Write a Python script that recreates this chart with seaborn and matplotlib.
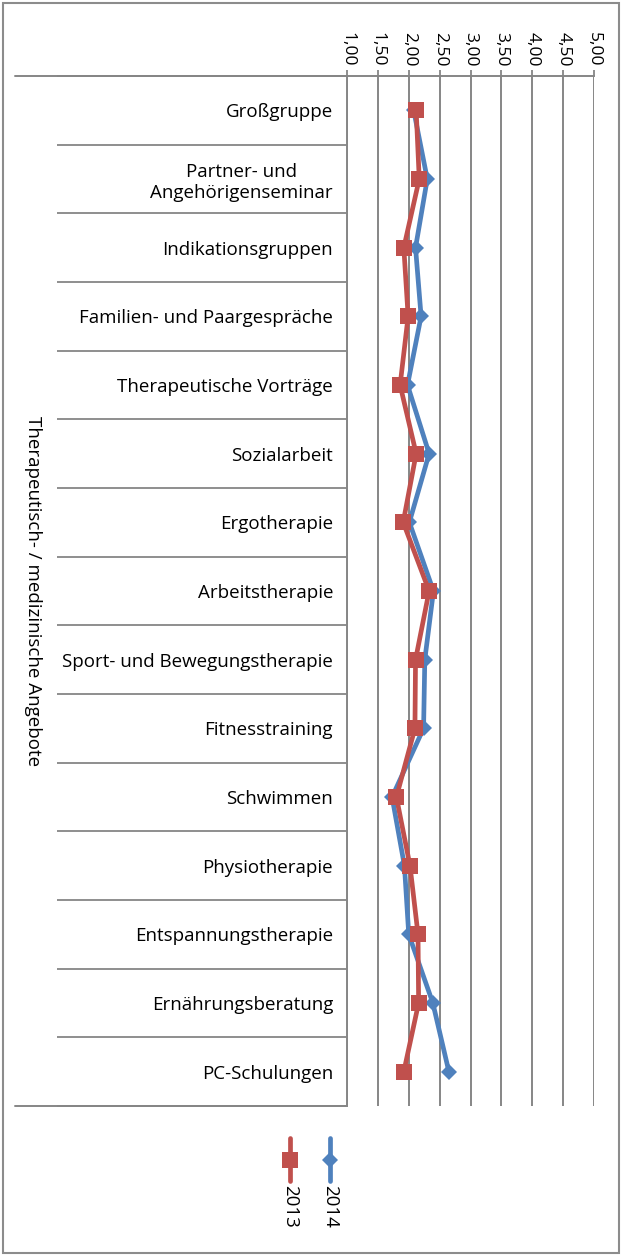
import numpy as np
import pandas as pd
import seaborn as sns
import matplotlib.pyplot as plt
from matplotlib.lines import Line2D
from matplotlib.patches import Rectangle
from matplotlib.transforms import blended_transform_factory

# Angebote (von oben nach unten)
kategorien = ['Großgruppe', 'Partner- und\nAngehörigenseminar', 'Indikationsgruppen',
              'Familien- und Paargespräche', 'Therapeutische Vorträge', 'Sozialarbeit',
              'Ergotherapie', 'Arbeitstherapie', 'Sport- und Bewegungstherapie',
              'Fitnesstraining', 'Schwimmen', 'Physiotherapie', 'Entspannungstherapie',
              'Ernährungsberatung', 'PC-Schulungen']
werte_2013 = [2.12, 2.17, 1.92, 1.99, 1.86, 2.12, 1.91, 2.33, 2.11, 2.10, 1.80, 2.02, 2.15, 2.16, 1.92]
werte_2014 = [2.08, 2.30, 2.11, 2.20, 1.98, 2.33, 2.01, 2.40, 2.26, 2.24, 1.73, 1.93, 2.00, 2.39, 2.65]
x_ticks = [1.0, 1.5, 2.0, 2.5, 3.0, 3.5, 4.0, 4.5, 5.0]
gruppe = 'Therapeutisch- / medizinische Angebote'
jahre = ['2013', '2014']

rot = '#C0504D'
blau = '#4F81BD'
grau = '#868686'

sns.set_style('white')
plt.rcParams['font.family'] = ['Open Sans', 'DejaVu Sans']
plt.rcParams['text.color'] = 'black'
plt.rcParams['xtick.labelcolor'] = 'black'
plt.rcParams['ytick.labelcolor'] = 'black'

W, H = 628, 1255
fig = plt.figure(figsize=(W / 100, H / 100), dpi=100)
ax = fig.add_axes([347 / W, 1 - 1106 / H, (594 - 347) / W, (1106 - 76) / H])

df14 = pd.DataFrame({'Angebot': kategorien, 'Wert': werte_2014})
df13 = pd.DataFrame({'Angebot': kategorien, 'Wert': werte_2013})

sns.lineplot(data=df14, x='Wert', y='Angebot', orient='y', sort=False, errorbar=None,
             color=blau, linewidth=3.4, marker='D', markersize=8, markeredgewidth=0, ax=ax)
sns.lineplot(data=df13, x='Wert', y='Angebot', orient='y', sort=False, errorbar=None,
             color=rot, linewidth=3.4, marker='s', markersize=12, markeredgewidth=0, ax=ax)

# Achsen
ax.set_xlim(1, 5)
ax.set_ylim(len(kategorien) - 0.5, -0.5)
ax.xaxis.tick_top()
ax.set_xticks(x_ticks, [f'{v:.2f}'.replace('.', ',') for v in x_ticks], rotation=-90, fontsize=12.5)
ax.tick_params(axis='x', which='major', length=4, width=1.3, color=grau, pad=3, top=True)
ax.grid(axis='x', color=grau, linewidth=1.4)

ax.set_yticks(range(len(kategorien)), kategorien, fontsize=13.5, ha='right', multialignment='center')
ax.set_yticks(np.arange(-0.5, len(kategorien), 1), minor=True)
ax.tick_params(axis='y', which='major', length=0, pad=10)
ax.tick_params(axis='y', which='minor', length=(347 - 57) * 0.72, width=1.3, color=grau, left=True)
ax.set_xlabel('')
ax.set_ylabel('')

for s in ['right', 'bottom']:
    ax.spines[s].set_visible(False)
for s in ['left', 'top']:
    ax.spines[s].set_color(grau)
    ax.spines[s].set_linewidth(1.4)

# äußere Trennlinien der Kategorienachse
tr = blended_transform_factory(fig.transFigure, ax.transAxes)
for yy in [0, 1]:
    fig.add_artist(Line2D([15 / W, 347 / W], [yy, yy], transform=tr, color=grau, lw=1.4))

fig.text(33 / W, 1 - 591 / H, gruppe, rotation=-90, ha='center', va='center', fontsize=13.5)

# Legende
for jahr, farbe, mk, ms, xp in [(jahre[0], rot, 's', 12, 290), (jahre[1], blau, 'D', 8, 330)]:
    fig.add_artist(Line2D([xp / W, xp / W], [1 - 1138 / H, 1 - 1181 / H], color=farbe, lw=3.4))
    fig.add_artist(Line2D([xp / W], [1 - 1160 / H], color=farbe, marker=mk, markersize=ms,
                          markeredgewidth=0, linestyle='none'))
    fig.text(xp / W, 1 - 1185 / H, jahr, rotation=-90, ha='center', va='top', fontsize=13.5)

fig.patches.append(Rectangle((3 / W, 2 / H), 616 / W, 1250 / H, transform=fig.transFigure,
                             fill=False, edgecolor='#8c8c8c', linewidth=1.5))

fig.savefig('out.png', dpi=100)
